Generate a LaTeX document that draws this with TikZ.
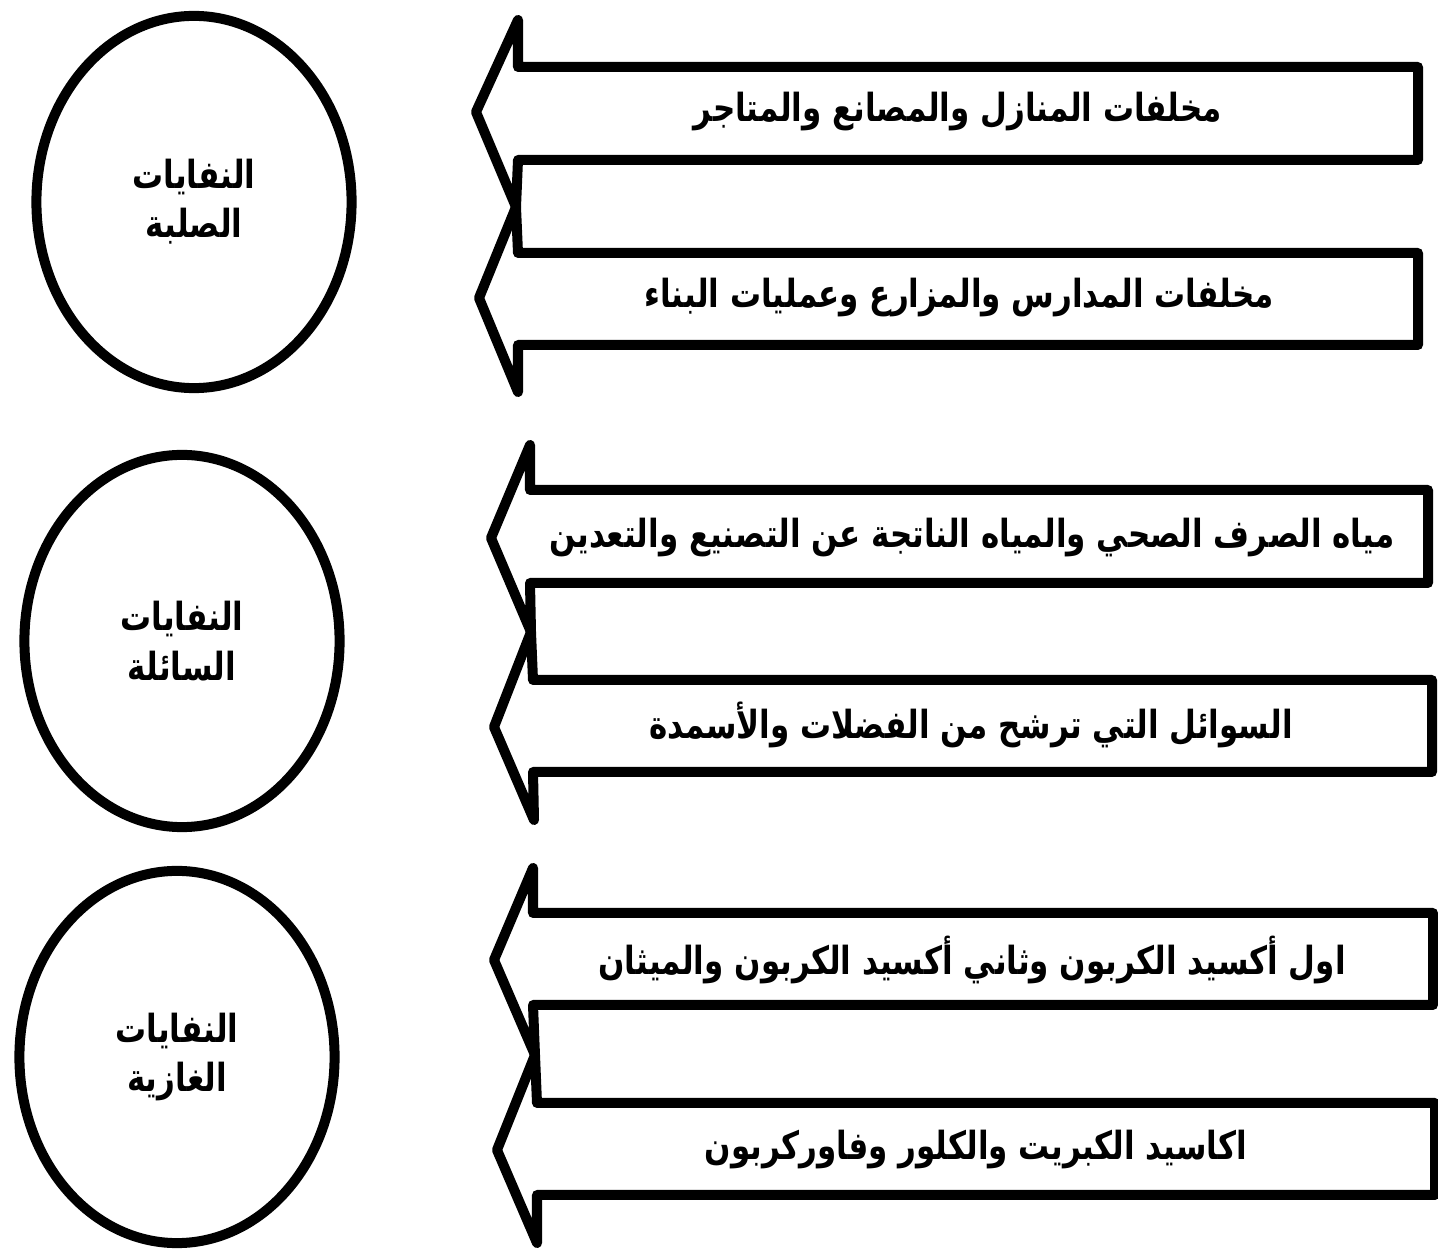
\documentclass[tikz,border=0pt]{standalone}
\usepackage{fontspec}
\newfontfamily\arabicfont[Script=Arabic, FakeStretch=0.8]{DejaVu Sans}
\TeXXeTstate=1
\usetikzlibrary{shapes.geometric}

\begin{document}
\begin{tikzpicture}[
    x=0.01cm, y=-0.01cm,
    waste/.style={ellipse, draw, line width=0.1cm, minimum width=3.15cm, minimum height=3.72cm, align=center, font=\arabicfont\bfseries\fontsize{11}{14}\selectfont},
    arrowbox/.style={draw, line width=0.1cm, line join=round},
    source/.style={font=\arabicfont\bfseries\fontsize{11}{13}\selectfont}
]
\useasboundingbox (0,0) rectangle (1438,1249);

% the three kinds of waste
\node[waste] (solid) at (194,202) {\beginR النفايات\endR\\\beginR الصلبة\endR};
\node[waste] (liquid) at (182,641) {\beginR النفايات\endR\\\beginR السائلة\endR};
\node[waste] (gas) at (177,1057) {\beginR النفايات\endR\\\beginR الغازية\endR};

% arrows
\draw[arrowbox] (518,67) -- (1418,67) -- (1418,160) -- (518,160) -- (516,207) -- (476,112) -- (518,20) -- cycle;
\draw[arrowbox] (518,253) -- (1418,253) -- (1418,345) -- (518,345) -- (518,392) -- (479,298) -- (516,207) -- cycle;
\draw[arrowbox] (530,490) -- (1428,490) -- (1428,583) -- (530,583) -- (531,632) -- (491,538) -- (530,445) -- cycle;
\draw[arrowbox] (533,680) -- (1432,680) -- (1432,772) -- (533,772) -- (534,820) -- (494,727) -- (531,632) -- cycle;
\draw[arrowbox] (533,913) -- (1433,913) -- (1433,1005) -- (533,1005) -- (535,1055) -- (494,960) -- (533,868) -- cycle;
\draw[arrowbox] (537,1103) -- (1435,1103) -- (1435,1195) -- (537,1195) -- (537,1243) -- (497,1150) -- (535,1055) -- cycle;

% texts in the arrows
\node[source] (homes) at (958,112) {\beginR مخلفات المنازل والمصانع والمتاجر\endR};
\node[source] (schools) at (959,298) {\beginR مخلفات المدارس والمزارع وعمليات البناء\endR};
\node[source] (sewage) at (972,538) {\beginR مياه الصرف الصحي والمياه الناتجة عن التصنيع والتعدين\endR};
\node[source] (leach) at (971,725) {\beginR السوائل التي ترشح من الفضلات والأسمدة\endR};
\node[source] (carbon) at (972,960) {\beginR اول أكسيد الكربون وثاني أكسيد الكربون والميثان\endR};
\node[source] (sulfur) at (976,1150) {\beginR اكاسيد الكبريت والكلور وفاوركربون\endR};

\end{tikzpicture}
\end{document}
